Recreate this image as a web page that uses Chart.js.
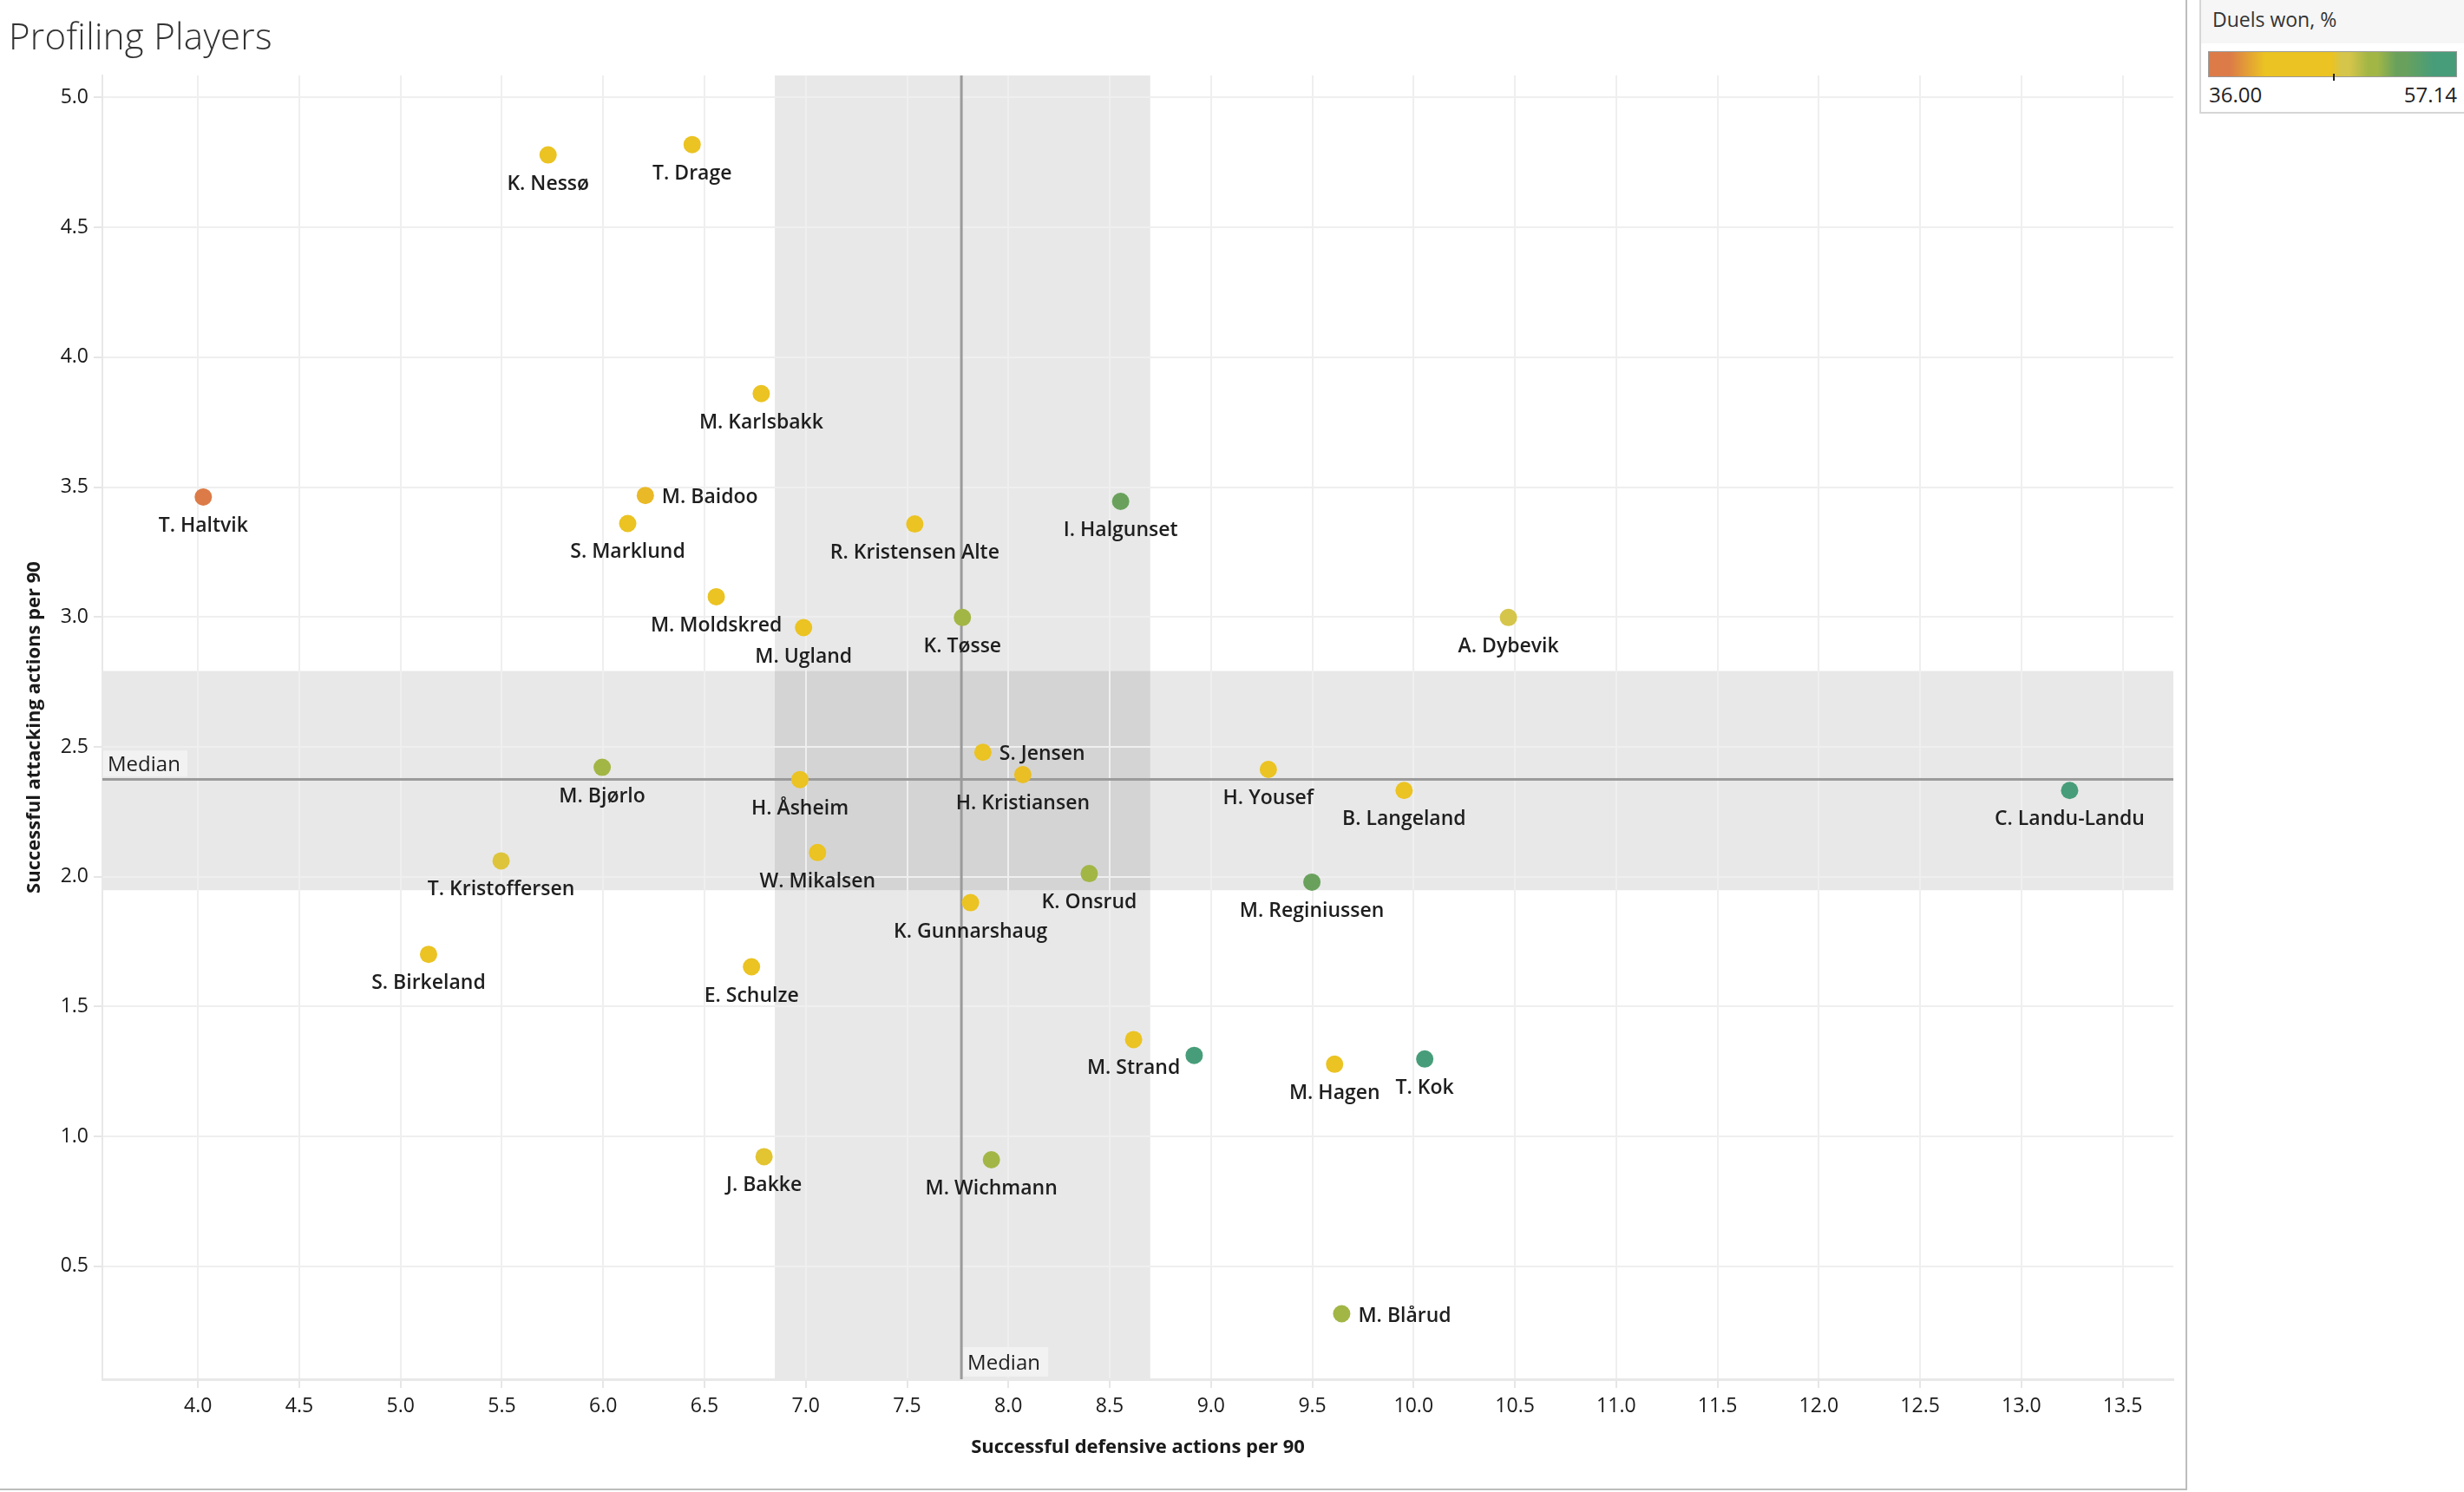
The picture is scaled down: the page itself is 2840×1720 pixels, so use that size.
<!DOCTYPE html>
<html>
<head>
<meta charset="utf-8">
<title>Profiling Players</title>
<script src="https://cdn.jsdelivr.net/npm/chart.js@4.4.1/dist/chart.umd.min.js"></script>
<style>
  body { margin: 0; background: #fff; font-family: "Open Sans", sans-serif; width: 2840px; height: 1720px; position: relative; overflow: hidden; }
  #frame { position: absolute; left: 0; top: 0; width: 2521px; height: 1718px; box-sizing: border-box; border-right: 2px solid #bdbdbd; border-bottom: 2px solid #bdbdbd; }
  #chartBox { position: absolute; left: 0; top: 0; width: 2519px; height: 1716px; }
  #title { position: absolute; left: 10px; top: 20px; font-size: 42px; line-height: 42px; font-weight: 300; color: #333; letter-spacing: 0.3px; }
  #legend { position: absolute; left: 2535px; top: 0; width: 305px; height: 131px; box-sizing: border-box; border-left: 2px solid #d6d6d6; border-bottom: 2px solid #d6d6d6; }
  #legendHead { position: absolute; left: 0; top: 0; right: 0; height: 50px; background: #f6f6f6; }
  #legendTitle { position: absolute; left: 13px; top: 11px; font-size: 23px; line-height: 23px; color: #333; }
  #ramp { position: absolute; left: 8px; top: 59px; width: 287px; height: 30px; box-sizing: border-box; border: 1px solid #9a9a9a; }
  #rampTick { position: absolute; left: 152px; top: 85px; width: 2px; height: 8px; background: #222; }
  .rampLabel { position: absolute; top: 97px; font-size: 24px; line-height: 24px; color: #222; }
</style>
</head>
<body>
<div id="frame"><div id="chartBox"><canvas id="scatter"></canvas></div></div>
<div id="title">Profiling Players</div>
<div id="legend">
  <div id="legendHead"></div>
  <div id="legendTitle">Duels won, %</div>
  <div id="ramp"></div>
  <div id="rampTick"></div>
  <div class="rampLabel" style="left: 9px;">36.00</div>
  <div class="rampLabel" style="right: 8px;">57.14</div>
</div>
<script>
// players
const players = ['K. Nessø', 'T. Drage', 'M. Karlsbakk', 'T. Haltvik', 'M. Baidoo', 'S. Marklund',
  'R. Kristensen Alte', 'I. Halgunset', 'M. Moldskred', 'M. Ugland', 'K. Tøsse', 'A. Dybevik',
  'S. Jensen', 'H. Kristiansen', 'M. Bjørlo', 'H. Åsheim', 'H. Yousef', 'B. Langeland',
  'C. Landu-Landu', 'T. Kristoffersen', 'W. Mikalsen', 'K. Onsrud', 'M. Reginiussen',
  'K. Gunnarshaug', 'S. Birkeland', 'E. Schulze', 'M. Strand', '', 'M. Hagen', 'T. Kok',
  'J. Bakke', 'M. Wichmann', 'M. Blårud'];

const defActions = [5.728, 6.439, 6.780, 4.026, 6.208, 6.121,
  7.538, 8.554, 6.558, 6.989, 7.773, 10.468,
  7.874, 8.071, 5.995, 6.971, 9.283, 9.953,
  13.238, 5.496, 7.058, 8.399, 9.498,
  7.813, 5.138, 6.732, 8.618, 8.917, 9.610, 10.055,
  6.794, 7.916, 9.645];

const attActions = [4.779, 4.819, 3.860, 3.462, 3.468, 3.360,
  3.358, 3.445, 3.078, 2.959, 2.998, 2.998,
  2.479, 2.393, 2.421, 2.374, 2.413, 2.332,
  2.332, 2.061, 2.093, 2.012, 1.979,
  1.900, 1.701, 1.653, 1.373, 1.312, 1.278, 1.298,
  0.922, 0.910, 0.317];

const duelsWon = [44.0, 45.0, 44.5, 36.0, 40.4, 43.0,
  44.0, 52.4, 43.5, 45.0, 50.0, 47.4,
  44.0, 40.6, 49.9, 43.0, 46.2, 44.8,
  57.14, 47.0, 44.0, 50.1, 52.3,
  42.0, 45.5, 43.0, 44.0, 56.0, 45.0, 56.5,
  46.8, 50.0, 50.2];

const xTickStep = 0.5;
const yTickStep = 0.5;
const medianDef = 7.768;
const medianAtt = 2.375;
const defBand = [6.847, 8.700];
const attBand = [1.948, 2.792];
const duelsRange = [36.0, 57.14];

// colour ramp for duels won
const colourStops = [
  [36.0, '#dc7b48'], [37.8, '#dc7b48'], [40.8, '#ebc322'], [46.5, '#ebc322'],
  [47.3, '#d5c54a'], [48.0, '#d5c54a'], [49.6, '#a2b646'], [50.4, '#a2b646'],
  [52.0, '#69a15c'], [52.8, '#69a15c'], [55.2, '#479d79'], [57.14, '#479d79']
];
const labelSide = { 'M. Baidoo': 'right', 'S. Jensen': 'right', 'M. Blårud': 'right' };

function hexToRgb(h) {
  return [1, 3, 5].map(i => parseInt(h.substr(i, 2), 16));
}
function duelColour(v) {
  if (v <= colourStops[0][0]) return colourStops[0][1];
  for (let i = 1; i < colourStops.length; i++) {
    const [v1, c1] = colourStops[i];
    if (v <= v1) {
      const [v0, c0] = colourStops[i - 1];
      const t = (v - v0) / (v1 - v0);
      const a = hexToRgb(c0), b = hexToRgb(c1);
      return 'rgb(' + a.map((x, k) => Math.round(x + (b[k] - x) * t)).join(',') + ')';
    }
  }
  return colourStops[colourStops.length - 1][1];
}

document.getElementById('ramp').style.background = 'linear-gradient(to right, ' +
  colourStops.map(s => s[1] + ' ' + ((s[0] - duelsRange[0]) / (duelsRange[1] - duelsRange[0]) * 100).toFixed(1) + '%').join(', ') + ')';

const points = players.map((p, i) => ({ x: defActions[i], y: attActions[i] }));

const guides = {
  id: 'guides',
  beforeDraw(chart) {
    const { ctx, chartArea: a, scales: { x, y } } = chart;
    ctx.save();
    ctx.fillStyle = 'rgba(0,0,0,0.09)';
    const bx0 = x.getPixelForValue(defBand[0]), bx1 = x.getPixelForValue(defBand[1]);
    ctx.fillRect(bx0, a.top, bx1 - bx0, a.bottom - a.top);
    const by0 = y.getPixelForValue(attBand[1]), by1 = y.getPixelForValue(attBand[0]);
    ctx.fillRect(a.left, by0, a.right - a.left, by1 - by0);
    ctx.restore();
  },
  beforeDatasetsDraw(chart) {
    const { ctx, chartArea: a, scales: { x, y } } = chart;
    const mx = x.getPixelForValue(medianDef), my = y.getPixelForValue(medianAtt);
    ctx.save();
    ctx.strokeStyle = '#9b9b9b';
    ctx.lineWidth = 3;
    ctx.beginPath();
    ctx.moveTo(mx, a.top); ctx.lineTo(mx, a.bottom);
    ctx.moveTo(a.left, my); ctx.lineTo(a.right, my);
    ctx.stroke();
    // "Median" tags
    ctx.font = '24px "Open Sans"';
    ctx.fillStyle = '#f2f2f2';
    ctx.fillRect(a.left + 1, my - 33, 97, 30);
    ctx.fillRect(mx + 2, a.bottom - 37, 98, 34);
    ctx.fillStyle = '#1e1e1e';
    ctx.textBaseline = 'alphabetic';
    ctx.textAlign = 'left';
    ctx.fillText('Median', a.left + 6, my - 9);
    ctx.fillText('Median', mx + 7, a.bottom - 11);
    ctx.restore();
  },
  afterDatasetsDraw(chart) {
    const { ctx } = chart;
    const meta = chart.getDatasetMeta(0);
    ctx.save();
    ctx.font = '600 23px "Open Sans"';
    ctx.fillStyle = '#1e1e1e';
    ctx.textBaseline = 'alphabetic';
    meta.data.forEach((pt, i) => {
      const name = players[i];
      if (!name) return;
      if (labelSide[name] === 'right') {
        ctx.textAlign = 'left';
        ctx.fillText(name, pt.x + 19, pt.y + 9);
      } else {
        ctx.textAlign = 'center';
        ctx.fillText(name, pt.x, pt.y + 40);
      }
    });
    ctx.restore();
  }
};

const tickFont = { family: '"Open Sans"', size: 23, weight: '500' };
const titleFont = { family: '"Open Sans"', size: 22, weight: '700' };

new Chart(document.getElementById('scatter').getContext('2d'), {
  type: 'scatter',
  data: {
    datasets: [{
      label: 'Players',
      data: points,
      backgroundColor: duelsWon.map(duelColour),
      borderWidth: 0,
      pointRadius: 10,
      pointHoverRadius: 10
    }]
  },
  options: {
    responsive: true,
    maintainAspectRatio: false,
    animation: false,
    layout: { padding: { top: 87, right: 14, left: 0, bottom: 0 } },
    plugins: { legend: { display: false }, tooltip: { enabled: false } },
    scales: {
      x: {
        type: 'linear',
        min: 3.528,
        max: 13.75,
        afterFit(scale) { scale.height = 126; },
        ticks: { stepSize: xTickStep, includeBounds: false, padding: 8, color: '#1a1a1a', font: tickFont,
                 maxRotation: 0, autoSkip: false, callback: v => v.toFixed(1) },
        grid: { color: '#efefef', lineWidth: 2, tickLength: 10, tickColor: '#e6e6e6' },
        border: { color: '#e8e8e8', width: 3 },
        title: { display: true, text: 'Successful defensive actions per 90', color: '#1a1a1a',
                 font: titleFont, padding: { top: 0, bottom: 34 } }
      },
      y: {
        type: 'linear',
        min: 0.065,
        max: 5.085,
        afterFit(scale) { scale.width = 118; },
        ticks: { stepSize: yTickStep, includeBounds: false, padding: 6, color: '#1a1a1a', font: tickFont,
                 callback: v => v.toFixed(1) },
        grid: { color: '#efefef', lineWidth: 2, tickLength: 10, tickColor: '#e6e6e6' },
        border: { color: '#e8e8e8', width: 2 },
        title: { display: true, text: 'Successful attacking actions per 90', color: '#1a1a1a',
                 font: titleFont, padding: { top: 27, bottom: 0 } }
      }
    }
  },
  plugins: [guides]
});
</script>
</body>
</html>
